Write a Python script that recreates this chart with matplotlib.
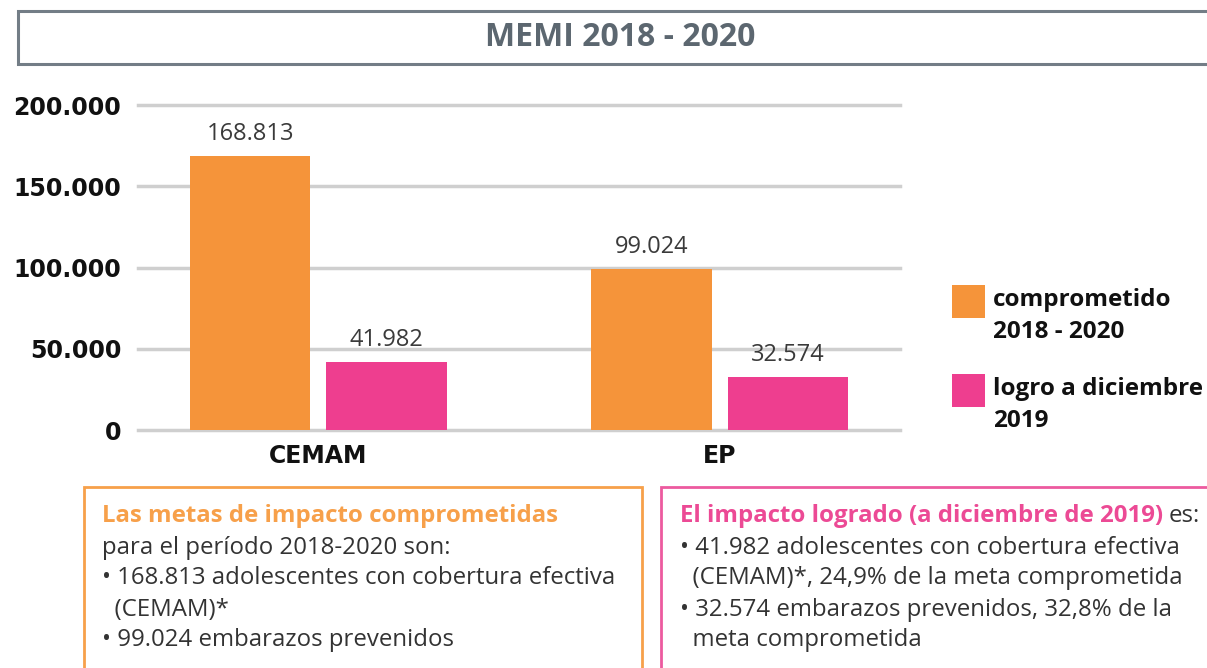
import matplotlib
matplotlib.use("Agg")
import matplotlib.pyplot as plt
from matplotlib.patches import Rectangle

# ---- data ----
categories = ["CEMAM", "EP"]
comprometido = [168813, 99024]
logro = [41982, 32574]
series_labels = ["comprometido\n2018 - 2020", "logro a diciembre\n2019"]
yticks = [0, 50000, 100000, 150000, 200000]
title = "MEMI 2018 - 2020"

ORANGE = "#F5943A"
PINK = "#EE3E8F"
DARK = "#333333"
FONT = ["Open Sans", "DejaVu Sans"]
BOLDFONT = ["DejaVu Sans"]
plt.rcParams["font.family"] = FONT

W, H = 1207, 668
fig = plt.figure(figsize=(W / 100, H / 100), dpi=100)
fig.patch.set_facecolor("white")

def fx(x):
    return x / W

def fy(y):
    return 1 - y / H

def fmt(v):
    return f"{v:,}".replace(",", ".")

# ---- title box ----
fig.add_artist(Rectangle((fx(18), fy(64)), fx(1300 - 18), (64 - 11) / H,
                         transform=fig.transFigure, facecolor="white",
                         edgecolor="#737D86", linewidth=2.2, clip_on=False))
fig.text(fx(620), fy(38), title, ha="center", va="center", fontsize=23,
         fontweight="bold", color="#5C6770")

# ---- chart ----
ax = fig.add_axes([fx(138), fy(430), fx(900 - 138), (430 - 105) / H])
x = list(range(len(categories)))
off, bw = 0.17, 0.3
b1 = ax.bar([i - off for i in x], comprometido, width=bw, color=ORANGE, zorder=3)
b2 = ax.bar([i + off for i in x], logro, width=bw, color=PINK, zorder=3)
for bars, vals in ((b1, comprometido), (b2, logro)):
    for r, v in zip(bars, vals):
        ax.annotate(fmt(v), (r.get_x() + r.get_width() / 2, v),
                    xytext=(0, 7), textcoords="offset points",
                    ha="center", va="bottom", fontsize=17, color="#3a3a3a")
ax.set_xlim(-0.45, 1.45)
ax.set_ylim(0, 200000)
ax.set_yticks(yticks)
ax.set_yticklabels([fmt(v) for v in yticks], fontsize=17, fontweight="bold",
                   color="#111111", family=BOLDFONT)
ax.set_xticks(x)
ax.set_xticklabels(categories, fontsize=17, fontweight="bold", color="#111111",
                   family=BOLDFONT)
ax.tick_params(axis="both", length=0)
ax.tick_params(axis="y", pad=12)
ax.tick_params(axis="x", pad=10)
for s in ax.spines.values():
    s.set_visible(False)
ax.yaxis.grid(True, color="#CFCFCF", linewidth=2.5, zorder=0)
for gl in ax.get_ygridlines():
    gl.set_clip_on(False)
ax.set_axisbelow(True)

# ---- legend ----
for (col, lab, ytop) in ((ORANGE, series_labels[0], 285), (PINK, series_labels[1], 374)):
    fig.add_artist(Rectangle((fx(952), fy(ytop + 33)), fx(33), 33 / H,
                             transform=fig.transFigure, facecolor=col,
                             edgecolor="none"))
    for k, line in enumerate(lab.split("\n")):
        fig.text(fx(993), fy(ytop + 15 + 32 * k), line, ha="left", va="center",
                 fontsize=17.5, fontweight="bold", color="#111111")

# ---- bottom boxes ----
fig.add_artist(Rectangle((fx(84), fy(700)), fx(642 - 84), (700 - 487) / H,
                         transform=fig.transFigure, facecolor="white",
                         edgecolor="#F7A04A", linewidth=2, clip_on=False))
fig.add_artist(Rectangle((fx(661), fy(700)), fx(1300 - 661), (700 - 487) / H,
                         transform=fig.transFigure, facecolor="white",
                         edgecolor="#EC5A9F", linewidth=2, clip_on=False))

fs = 17.3
ys = [516, 548, 578, 610, 640]
fig.text(fx(102), fy(ys[0]), "Las metas de impacto comprometidas", ha="left", va="center",
         fontsize=fs, fontweight="bold", color="#F7A04A")
left_lines = ["para el período 2018-2020 son:",
              "• 168.813 adolescentes con cobertura efectiva",
              "  (CEMAM)*",
              "• 99.024 embarazos prevenidos"]
for y, t in zip(ys[1:], left_lines):
    fig.text(fx(102), fy(y), t, ha="left", va="center", fontsize=fs, color=DARK)

t1 = fig.text(fx(680), fy(ys[0]), "El impacto logrado (a diciembre de 2019)", ha="left",
              va="center", fontsize=fs, fontweight="bold", color="#EC4A95")
fig.canvas.draw()
bb = t1.get_window_extent(fig.canvas.get_renderer())
fig.text(bb.x1 / fig.bbox.width + fx(5), fy(ys[0]), "es:", ha="left", va="center",
         fontsize=fs, color=DARK)
right_lines = ["• 41.982 adolescentes con cobertura efectiva",
               "  (CEMAM)*, 24,9% de la meta comprometida",
               "• 32.574 embarazos prevenidos, 32,8% de la",
               "  meta comprometida"]
for y, t in zip(ys[1:], right_lines):
    fig.text(fx(680), fy(y), t, ha="left", va="center", fontsize=fs, color=DARK)

fig.savefig("out.png", dpi=100, facecolor="white")
